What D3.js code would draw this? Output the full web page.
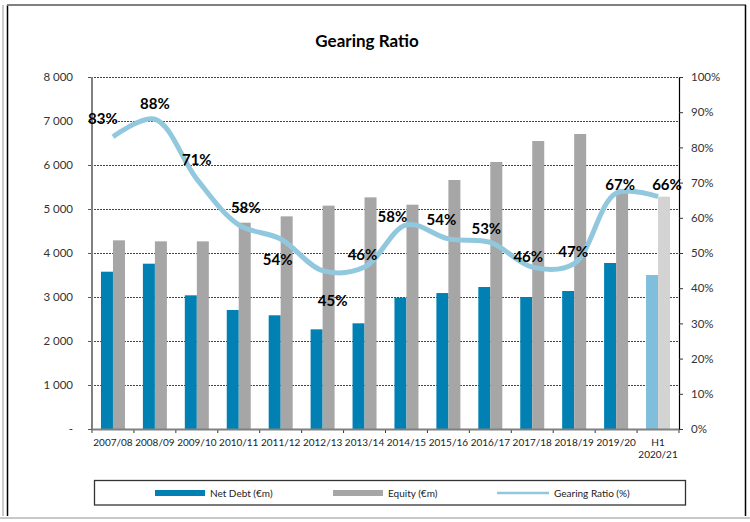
<!DOCTYPE html>
<html><head><meta charset="utf-8">
<script src="https://cdn.jsdelivr.net/npm/d3@7"></script>
<style>
html,body{margin:0;padding:0;background:#fff;}
svg{display:block;font-family:Lato,"Noto Sans",sans-serif;}
</style></head>
<body>
<svg id="chart" width="750" height="522"></svg>
<script>
const categories = ["2007/08","2008/09","2009/10","2010/11","2011/12","2012/13","2013/14","2014/15","2015/16","2016/17","2017/18","2018/19","2019/20","H1\n2020/21"];
const netDebt = [3575,3757,3038,2705,2584,2265,2402,2985,3090,3227,3000,3136,3773,3500];
const equity = [4288,4265,4265,4689,4833,5076,5265,5098,5659,6068,6545,6705,5400,5280];
const gearing = [0.83,0.88,0.71,0.58,0.54,0.45,0.46,0.58,0.54,0.53,0.46,0.47,0.67,0.66];
const leftTicks = [0,1000,2000,3000,4000,5000,6000,7000,8000];
const rightTicks = [0,0.1,0.2,0.3,0.4,0.5,0.6,0.7,0.8,0.9,1.0];
const seriesNames = ["Net Debt (€m)","Equity (€m)","Gearing Ratio (%)"];
// label offsets relative to each point (layout only)
const labelOffsets = [[-10,-18],[0,-16],[0,-19],[7,-17],[-3,21],[10,30],[-2,-12],[-14,-8],[-7,-19],[-4,-14],[-4,-10],[-1,-12],[4,-9],[9,-12]];

const svg = d3.select("#chart");
const L = 92, R = 679, T = 77, B = 429;
const x = d3.scaleBand().domain(categories).range([L, R]).paddingInner(0).paddingOuter(0);
const x1 = d3.scaleBand().domain(["debt","equity"]).range([0, 24]);
const barOff = (x.bandwidth() - 24) / 2;
const y = d3.scaleLinear().domain([0, 8000]).range([B, T]);
const y2 = d3.scaleLinear().domain([0, 1]).range([B, T]);

// frame
svg.append("line").attr("x1",3).attr("x2",3).attr("y1",5).attr("y2",516).attr("stroke","#999").attr("stroke-width",1);
svg.append("line").attr("x1",7.5).attr("x2",7.5).attr("y1",5).attr("y2",516).attr("stroke","#000").attr("stroke-width",1.5);
svg.append("line").attr("x1",7).attr("x2",746).attr("y1",5).attr("y2",5).attr("stroke","#808080").attr("stroke-width",2);
svg.append("line").attr("x1",745.5).attr("x2",745.5).attr("y1",5).attr("y2",516).attr("stroke","#000").attr("stroke-width",1.5);
svg.append("line").attr("x1",0).attr("x2",750).attr("y1",518).attr("y2",518).attr("stroke","#c8c8c8").attr("stroke-width",2);

// title
svg.append("text").attr("x",367).attr("y",47).attr("text-anchor","middle")
  .attr("font-size",17).attr("font-weight","bold").attr("fill","#000").text("Gearing Ratio");

// gridlines
svg.append("g").selectAll("line").data(leftTicks.filter(d=>d>0)).join("line")
  .attr("x1",L-4).attr("x2",R).attr("y1",d=>Math.round(y(d))+0.5).attr("y2",d=>Math.round(y(d))+0.5)
  .attr("stroke","#444").attr("stroke-width",1).attr("stroke-dasharray","2,1");

// left axis
const leftAxis = d3.axisLeft(y).tickValues(leftTicks).tickSize(4).tickPadding(15)
  .tickFormat(d => d === 0 ? "-" : d3.format(",")(d).replace(/,/g," "));
const gl = svg.append("g").attr("transform",`translate(${L},0)`).call(leftAxis);
gl.select(".domain").remove();
gl.selectAll(".tick line").attr("stroke","#555");
gl.selectAll(".tick text").attr("font-size",11.5).attr("fill","#333").attr("font-family","Lato,'Noto Sans',sans-serif");

// right axis
const rightAxis = d3.axisRight(y2).tickValues(rightTicks).tickSize(4).tickPadding(8)
  .tickFormat(d3.format(".0%"));
const gr = svg.append("g").attr("transform",`translate(${R},0)`).call(rightAxis);
gr.select(".domain").attr("stroke","#000").attr("stroke-width",1.2);
gr.selectAll(".tick line").attr("stroke","#333");
gr.selectAll(".tick text").attr("font-size",11.5).attr("fill","#333").attr("font-family","Lato,'Noto Sans',sans-serif");

// bars
const isH1 = i => i === categories.length - 1;
svg.append("g").selectAll("rect").data(netDebt).join("rect")
  .attr("x",(d,i)=>x(categories[i]) + barOff + x1("debt"))
  .attr("width",x1.bandwidth()).attr("y",d=>y(d)).attr("height",d=>y(0)-y(d))
  .attr("fill",(d,i)=>isH1(i) ? "#7fbfdb" : "#0080b3");
svg.append("g").selectAll("rect").data(equity).join("rect")
  .attr("x",(d,i)=>x(categories[i]) + barOff + x1("equity"))
  .attr("width",x1.bandwidth()).attr("y",d=>y(d)).attr("height",d=>y(0)-y(d))
  .attr("fill",(d,i)=>isH1(i) ? "#d3d3d3" : "#a6a6a6");

// left axis line and bottom axis
svg.append("line").attr("x1",L).attr("x2",L).attr("y1",T).attr("y2",B+1).attr("stroke","#808080").attr("stroke-width",2);
const bottomTicks = categories.map(c => x(c)).concat([R]);
svg.append("g").selectAll("line").data(bottomTicks).join("line")
  .attr("x1",d=>d).attr("x2",d=>d).attr("y1",B).attr("y2",B+4).attr("stroke","#333").attr("stroke-width",1);
svg.append("line").attr("x1",L).attr("x2",R).attr("y1",B+0.5).attr("y2",B+0.5).attr("stroke","#808080").attr("stroke-width",2);

// x labels
const xl = svg.append("g").selectAll("text").data(categories).join("text")
  .attr("x",d=>x(d)+x.bandwidth()/2).attr("y",446).attr("text-anchor","middle")
  .attr("font-size",10).attr("fill","#222");
xl.each(function(d){
  const parts = d.split("\n");
  const t = d3.select(this);
  parts.forEach((p,k)=>{
    t.append("tspan").attr("x",x(d)+x.bandwidth()/2).attr("dy",k===0?0:11.5).text(p);
  });
});

// gearing line
const line = d3.line().x((d,i)=>x(categories[i])+x.bandwidth()/2).y(d=>y2(d)).curve(d3.curveCatmullRom.alpha(0.5));
svg.append("path").datum(gearing).attr("d",line).attr("fill","none")
  .attr("stroke","#92c8de").attr("stroke-width",5).attr("stroke-linecap","butt");

// labels
svg.append("g").selectAll("text").data(gearing).join("text")
  .attr("x",(d,i)=>x(categories[i])+x.bandwidth()/2+labelOffsets[i][0])
  .attr("y",(d,i)=>y2(d)+labelOffsets[i][1])
  .attr("dy","0.36em").attr("text-anchor","middle")
  .attr("font-size",15).attr("font-weight","bold").attr("fill","#000")
  .text(d=>d3.format(".0%")(d));

// legend
svg.append("rect").attr("x",94.5).attr("y",480.5).attr("width",591).attr("height",24.5)
  .attr("fill","#fff").attr("stroke","#333").attr("stroke-width",1.3);
const lg = [
  {type:"bar", color:"#0080b3", x:155, tx:210},
  {type:"bar", color:"#a6a6a6", x:333, tx:388},
  {type:"line", color:"#92c8de", x:497, tx:554}
];
lg.forEach((d,i)=>{
  if(d.type==="bar"){
    svg.append("rect").attr("x",d.x).attr("y",490).attr("width",50).attr("height",6).attr("fill",d.color);
  } else {
    svg.append("line").attr("x1",d.x).attr("x2",d.x+52).attr("y1",493).attr("y2",493).attr("stroke",d.color).attr("stroke-width",2.5);
  }
  svg.append("text").attr("x",d.tx).attr("y",493).attr("dy","0.35em").attr("font-size",10).attr("fill","#222").text(seriesNames[i]);
});
</script>
</body></html>
